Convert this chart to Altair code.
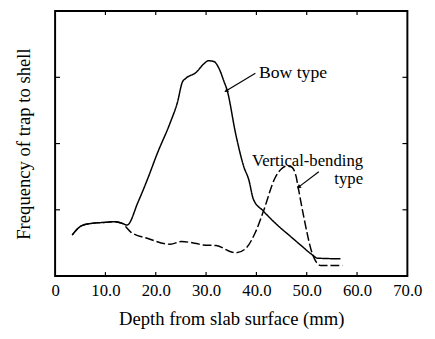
import altair as alt
import pandas as pd

FONT = "Liberation Serif"

# Bow type (solid)
bow_x = [3.4, 5.3, 7.3, 9.9, 11.8, 13.5, 14.3, 16.5, 18.3, 20.3, 22.9, 24.3, 25.3, 25.9, 28.1, 29.5,
         30.5, 31.5, 32.6, 33.5, 34.2, 35.9, 37.5, 38.5, 39.4, 41.4, 44.3, 46.9, 48.9, 51.1, 52.1, 56.7]
bow_y = [0.62, 0.76, 0.795, 0.81, 0.82, 0.79, 0.77, 1.12, 1.45, 1.85, 2.32, 2.62, 2.93, 2.98, 3.08, 3.2,
         3.25, 3.24, 3.13, 2.95, 2.80, 2.14, 1.65, 1.45, 1.16, 0.98, 0.76, 0.59, 0.46, 0.32, 0.27, 0.26]

# Vertical-bending type (dashed)
vb_x = [3.4, 5.3, 7.3, 9.9, 11.8, 13.5, 14.1, 15.1, 18.3, 22.9, 25.1, 28.1, 29.4, 32.0, 35.2, 35.9,
        37.8, 39.8, 41.4, 43.7, 45.0, 45.9, 46.9, 47.9, 48.2, 49.5, 51.1, 52.8, 57.1]
vb_y = [0.62, 0.76, 0.795, 0.81, 0.82, 0.79, 0.74, 0.66, 0.57, 0.48, 0.52, 0.49, 0.47, 0.46, 0.36, 0.35,
        0.41, 0.66, 0.98, 1.48, 1.62, 1.66, 1.65, 1.50, 1.38, 0.86, 0.34, 0.16, 0.16]

x_ticks = [0, 10, 20, 30, 40, 50, 60, 70]
inner_x_ticks = [10, 20, 30, 40, 50, 60]
inner_y_ticks = [1, 2, 3]

labels_text = ["Bow type", "Vertical-bending\ntype"]
labels_x = [40.5, 61.2]
labels_y = [3.06, 1.735]
labels_align = ["left", "right"]

arrow_x = [39.8, 52.4]
arrow_y = [3.06, 1.575]
arrow_x2 = [34.1, 48.5]
arrow_y2 = [2.80, 1.35]
arrow_angle = [239, 233]

W, H = 359, 270

df = pd.concat([
    pd.DataFrame({"x": bow_x, "y": bow_y, "s": "Bow type"}),
    pd.DataFrame({"x": vb_x, "y": vb_y, "s": "Vertical-bending type"}),
])

xs = alt.Scale(domain=[0, 70], nice=False, zero=False)
ys = alt.Scale(domain=[0, 4], nice=False, zero=False)

xaxis = alt.Axis(values=x_ticks, labelExpr="datum.value == 0 ? '0' : format(datum.value, '.1f')",
                 ticks=False, tickSize=0, domain=False, grid=False, labelFont=FONT, labelFontSize=17,
                 labelColor="black", labelPadding=7, title="Depth from slab surface (mm)",
                 titleFont=FONT, titleFontSize=19, titleFontWeight="normal", titleColor="black",
                 titlePadding=11, labelFlush=False)
yaxis = alt.Axis(labels=False, ticks=False, domain=False, grid=False, title="Frequency of trap to shell",
                 titleFont=FONT, titleFontSize=19, titleFontWeight="normal", titleColor="black",
                 titlePadding=22)

lines = alt.Chart(df).mark_line(color="black", strokeWidth=1.5, interpolate="monotone").encode(
    x=alt.X("x:Q", scale=xs, axis=xaxis),
    y=alt.Y("y:Q", scale=ys, axis=yaxis),
    strokeDash=alt.StrokeDash("s:N", scale=alt.Scale(domain=["Bow type", "Vertical-bending type"],
                                                      range=[[1, 0], [9, 3]]), legend=None),
    detail="s:N",
)

lab_df = pd.DataFrame({"t": labels_text, "x": labels_x, "y": labels_y, "a": labels_align})
text_left = alt.Chart(lab_df[lab_df.a == "left"]).mark_text(
    font=FONT, fontSize=18, align="left", baseline="middle", color="black").encode(
    x=alt.X("x:Q", scale=xs), y=alt.Y("y:Q", scale=ys), text="t:N")
text_right = alt.Chart(lab_df[lab_df.a == "right"]).mark_text(
    font=FONT, fontSize=17, align="right", baseline="middle", color="black",
    lineBreak="\n", lineHeight=18).encode(
    x=alt.X("x:Q", scale=xs), y=alt.Y("y:Q", scale=ys), text="t:N")

arr_df = pd.DataFrame({"x": arrow_x, "y": arrow_y, "x2": arrow_x2, "y2": arrow_y2, "ang": arrow_angle})
arrows = alt.Chart(arr_df).mark_rule(color="black", strokeWidth=1.2).encode(
    x=alt.X("x:Q", scale=xs), y=alt.Y("y:Q", scale=ys), x2="x2:Q", y2="y2:Q")
heads = alt.Chart(arr_df).mark_point(shape="triangle", filled=True, color="black", size=22, opacity=1).encode(
    x=alt.X("x2:Q", scale=xs), y=alt.Y("y2:Q", scale=ys), angle=alt.Angle("ang:Q", scale=None))

xt_df = pd.DataFrame({"v": inner_x_ticks})
yt_df = pd.DataFrame({"v": inner_y_ticks})
tick_b = alt.Chart(xt_df).mark_rule(color="black", strokeWidth=1.2).encode(
    x=alt.X("v:Q", scale=xs), y=alt.value(H), y2=alt.value(H - 4))
tick_t = alt.Chart(xt_df).mark_rule(color="black", strokeWidth=1.2).encode(
    x=alt.X("v:Q", scale=xs), y=alt.value(0), y2=alt.value(4))
tick_l = alt.Chart(yt_df).mark_rule(color="black", strokeWidth=1.2).encode(
    y=alt.Y("v:Q", scale=ys), x=alt.value(0), x2=alt.value(5))
tick_r = alt.Chart(yt_df).mark_rule(color="black", strokeWidth=1.2).encode(
    y=alt.Y("v:Q", scale=ys), x=alt.value(W), x2=alt.value(W - 5))

chart = alt.layer(lines, tick_b, tick_t, tick_l, tick_r, arrows, heads, text_left, text_right).properties(
    width=W, height=H, autosize=alt.AutoSizeParams(type="none"),
    padding={"left": 48, "top": 0, "right": 20, "bottom": 60},
    background="white",
).configure(font=FONT).configure_view(stroke="#000000", strokeWidth=2)

chart.save("out.html", embed_options={"renderer": "svg", "actions": False})
